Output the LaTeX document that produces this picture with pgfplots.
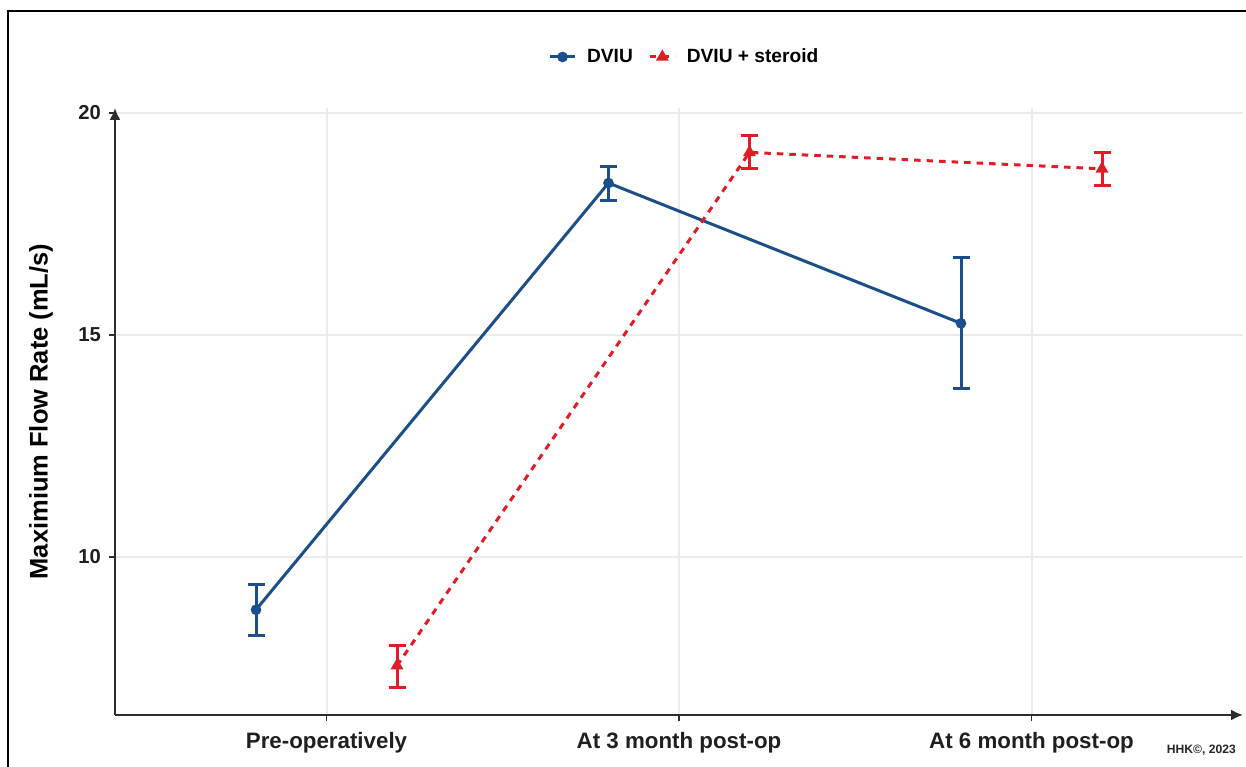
\documentclass[border=0pt]{standalone}
\usepackage{fontspec}
\setmainfont{Liberation Sans}
\usepackage{pgfplots}
\usepackage{pgfplotstable}
\pgfplotsset{compat=1.18}
\usetikzlibrary{arrows.meta}
\definecolor{dviublue}{RGB}{28,78,138}
\definecolor{dviured}{RGB}{225,28,36}
\definecolor{gridgray}{RGB}{235,235,235}
\definecolor{axisgray}{RGB}{45,45,45}

\pgfplotstableread{
x y ep em
-0.2 8.81 0.575 0.59
0.8 18.42 0.37 0.40
1.8 15.26 1.48 1.46
}\dviu
\pgfplotstableread{
x y ep em
0.2 7.55 0.45 0.49
1.2 19.11 0.39 0.36
2.2 18.74 0.37 0.38
}\steroid

\begin{document}
\begin{tikzpicture}
\useasboundingbox (0,0) rectangle (249.2mm,153.4mm);
\draw[line width=0.45mm,black] (1.6mm,-1mm) -- (1.6mm,151.2mm) -- (250mm,151.2mm);
\node[anchor=east, font=\fontsize{6.9}{8}\selectfont\bfseries, text=black!85] at (248.4mm,3.4mm) {HHK©, 2023};
\begin{axis}[
 at={(23mm,10.4mm)}, anchor=south west,
 scale only axis, width=225.6mm, height=121.4mm,
 xmin=-0.6, xmax=2.6, ymin=6.44, ymax=20.11,
 axis lines*=left,
 axis line style={draw=axisgray, line width=0.4mm, -{Latex[length=2.4mm,width=2.2mm]}},
 xtick={0,1,2}, xticklabels={Pre-operatively, At 3 month post-op, At 6 month post-op},
 ytick={10,15,20}, yticklabels={10,15,20},
 tick align=outside, major tick length=1.2mm,
 tick style={draw=axisgray, line width=0.35mm},
 grid=major, grid style={draw=gridgray, line width=0.4mm},
 xticklabel style={font=\fontsize{12.7}{14}\selectfont\bfseries, text=black!88, yshift=-1mm},
 yticklabel style={font=\fontsize{11.5}{13}\selectfont\bfseries, text=black!88, xshift=-0.4mm},
 ylabel={Maximium Flow Rate (mL/s)},
 every axis y label/.style={at={(axis description cs:-0.0655,0.5)}, rotate=90, anchor=center, font=\fontsize{14.5}{16}\selectfont\bfseries},
 legend style={at={(axis description cs:0.5055,1.084)}, anchor=center, draw=none, fill=none, font=\fontsize{10.9}{12}\selectfont\bfseries, legend columns=2,
   /tikz/every odd column/.append style={column sep=1.4mm},
   /tikz/every even column/.append style={column sep=2.4mm}},
 legend image code/.code={\draw[mark repeat=2,mark phase=2,#1] plot coordinates {(0mm,0mm)(2.5mm,0mm)(5mm,0mm)};},
]
\addplot[dviublue, line width=0.6mm, mark=*, mark size=0.75mm, mark options={solid},
  error bars/.cd, y dir=both, y explicit,
  error bar style={line width=0.6mm, solid, dviublue},
  error mark options={rotate=90, mark size=1.7mm, line width=0.6mm, dviublue}]
  table[x=x, y=y, y error plus=ep, y error minus=em] {\dviu};
\addlegendentry{DVIU}
\addplot[dviured, line width=0.6mm, dash pattern=on 1.3mm off 1.2mm, mark=triangle*, mark size=0.9mm, mark options={solid},
  error bars/.cd, y dir=both, y explicit,
  error bar style={line width=0.6mm, solid, dviured},
  error mark options={rotate=90, mark size=1.7mm, line width=0.6mm, dviured}]
  table[x=x, y=y, y error plus=ep, y error minus=em] {\steroid};
\addlegendentry{DVIU + steroid}
\end{axis}
\end{tikzpicture}
\end{document}
